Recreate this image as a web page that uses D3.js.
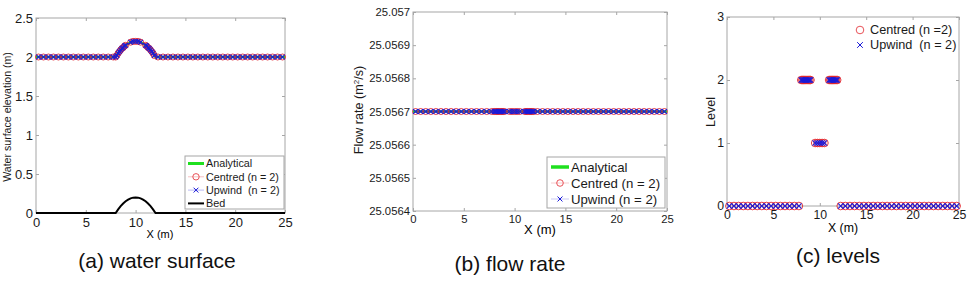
<!DOCTYPE html>
<html>
<head>
<meta charset="utf-8">
<script src="https://cdn.jsdelivr.net/npm/d3@7"></script>
<style>
body { margin: 0; background: #fff; }
text { font-family: "Liberation Sans", Arial, sans-serif; white-space: pre; }
</style>
</head>
<body>
<svg id="fig" width="970" height="282"></svg>
<script>
// cell centres of the adaptive mesh (m): coarse | level 2 | level 1 | level 2 | coarse
var meshX = [
    0.25, 0.75, 1.25, 1.75, 2.25, 2.75, 3.25, 3.75, 4.25, 4.75, 5.25, 5.75, 6.25, 6.75, 7.25, 7.75,
    8, 8.125, 8.25, 8.375, 8.5, 8.625, 8.75, 8.875, 9,
    9.5, 9.75, 10, 10.25, 10.5,
    11, 11.125, 11.25, 11.375, 11.5, 11.625, 11.75, 11.875,
    12.25, 12.75, 13.25, 13.75, 14.25, 14.75, 15.25, 15.75, 16.25, 16.75, 17.25, 17.75, 18.25,
    18.75, 19.25, 19.75, 20.25, 20.75, 21.25, 21.75, 22.25, 22.75, 23.25, 23.75, 24.25, 24.75
];
var meshLevel = [
    0, 0, 0, 0, 0, 0, 0, 0, 0, 0, 0, 0, 0, 0, 0, 0,
    2, 2, 2, 2, 2, 2, 2, 2, 2,
    1, 1, 1, 1, 1,
    2, 2, 2, 2, 2, 2, 2, 2,
    0, 0, 0, 0, 0, 0, 0, 0, 0, 0, 0, 0, 0,
    0, 0, 0, 0, 0, 0, 0, 0, 0, 0, 0, 0, 0
];
var centredEta = [
    2, 2, 2, 2, 2, 2, 2, 2, 2, 2, 2, 2, 2, 2, 2, 2,
    2.00, 2.02, 2.05, 2.07, 2.09, 2.11, 2.12, 2.14, 2.15,
    2.19, 2.20, 2.20, 2.20, 2.19,
    2.15, 2.14, 2.12, 2.11, 2.09, 2.07, 2.05, 2.02,
    2, 2, 2, 2, 2, 2, 2, 2, 2, 2, 2, 2, 2,
    2, 2, 2, 2, 2, 2, 2, 2, 2, 2, 2, 2, 2
];
var upwindEta = [
    2, 2, 2, 2, 2, 2, 2, 2, 2, 2, 2, 2, 2, 2, 2, 2,
    2.00, 2.02, 2.05, 2.07, 2.09, 2.11, 2.12, 2.14, 2.15,
    2.19, 2.20, 2.20, 2.20, 2.19,
    2.15, 2.14, 2.12, 2.11, 2.09, 2.07, 2.05, 2.02,
    2, 2, 2, 2, 2, 2, 2, 2, 2, 2, 2, 2, 2,
    2, 2, 2, 2, 2, 2, 2, 2, 2, 2, 2, 2, 2
];
var centredQ = [
    25.0567, 25.0567, 25.0567, 25.0567, 25.0567, 25.0567, 25.0567, 25.0567,
    25.0567, 25.0567, 25.0567, 25.0567, 25.0567, 25.0567, 25.0567, 25.0567,
    25.0567, 25.0567, 25.0567, 25.0567, 25.0567, 25.0567, 25.0567, 25.0567, 25.0567,
    25.0567, 25.0567, 25.0567, 25.0567, 25.0567,
    25.0567, 25.0567, 25.0567, 25.0567, 25.0567, 25.0567, 25.0567, 25.0567,
    25.0567, 25.0567, 25.0567, 25.0567, 25.0567, 25.0567, 25.0567, 25.0567, 25.0567,
    25.0567, 25.0567, 25.0567, 25.0567, 25.0567, 25.0567, 25.0567, 25.0567, 25.0567,
    25.0567, 25.0567, 25.0567, 25.0567, 25.0567, 25.0567, 25.0567, 25.0567
];
var upwindQ = centredQ.slice();

// analytical solution and bed profile
var bedX = [0, 8, 8.25, 8.5, 8.75, 9, 9.25, 9.5, 9.75, 10, 10.25, 10.5, 10.75, 11, 11.25, 11.5, 11.75, 12, 25];
var bedZ = [0, 0, 0.047, 0.088, 0.122, 0.15, 0.172, 0.188, 0.197, 0.2, 0.197, 0.188, 0.172, 0.15, 0.122, 0.088, 0.047, 0, 0];
var analyticEta = [2, 2, 2.05, 2.09, 2.12, 2.15, 2.17, 2.19, 2.20, 2.20, 2.20, 2.19, 2.17, 2.15, 2.12, 2.09, 2.05, 2, 2];
var analyticQX = [0, 25];
var analyticQ = [25.0567, 25.0567];

var xTicks = [0, 5, 10, 15, 20, 25];
var etaTicks = [0, 0.5, 1, 1.5, 2, 2.5];
var qTicks = [25.0564, 25.0565, 25.0566, 25.0567, 25.0568, 25.0569, 25.057];
var levelTicks = [0, 1, 2, 3];

var RED = "#e2272e", BLUE = "#1a1ad8", GREEN = "#1fe01f", GREY = "#a6a6a6";

var svg = d3.select("#fig");
svg.append("rect").attr("width", 970).attr("height", 282).attr("fill", "#fff");

function panel(cfg){
    var x = d3.scaleLinear().domain([0, 25]).range([cfg.left, cfg.right]);
    var y = d3.scaleLinear().domain(cfg.yDomain).range([cfg.bottom, cfg.top]);
    var g = svg.append("g");

    g.append("rect")
        .attr("x", cfg.left).attr("y", cfg.top)
        .attr("width", cfg.right - cfg.left).attr("height", cfg.bottom - cfg.top)
        .attr("fill", "#fff").attr("stroke", GREY).attr("stroke-width", 1);

    function styleAxis(sel, fs){
        sel.select(".domain").remove();
        sel.selectAll(".tick line").attr("stroke", GREY);
        sel.selectAll("text").attr("fill", "#1a1a1a").style("font-size", fs + "px")
            .attr("font-family", null);
    }

    g.append("g").attr("transform", "translate(0," + cfg.bottom + ")")
        .call(d3.axisBottom(x).tickValues(xTicks).tickSize(-3).tickPadding(cfg.xPad))
        .call(styleAxis, cfg.tickFont);
    g.append("g").attr("transform", "translate(0," + cfg.top + ")")
        .call(d3.axisTop(x).tickValues(xTicks).tickSize(-3).tickFormat(""))
        .call(styleAxis, cfg.tickFont);
    g.append("g").attr("transform", "translate(" + cfg.left + ",0)")
        .call(d3.axisLeft(y).tickValues(cfg.yTicks).tickSize(-3).tickPadding(3).tickFormat(function(d){ return String(d); }))
        .call(styleAxis, cfg.tickFont);
    g.append("g").attr("transform", "translate(" + cfg.right + ",0)")
        .call(d3.axisRight(y).tickValues(cfg.yTicks).tickSize(-3).tickFormat(""))
        .call(styleAxis, cfg.tickFont);

    g.append("text")
        .attr("x", (cfg.left + cfg.right) / 2 + cfg.xLabelDx).attr("y", cfg.xLabelY)
        .attr("text-anchor", "middle").style("font-size", cfg.xLabelFont + "px")
        .text("X (m)");

    return {g: g, x: x, y: y};
}

function drawLine(p, xs, ys, color, width, opacity){
    var line = d3.line().x(function(d){ return p.x(d[0]); }).y(function(d){ return p.y(d[1]); });
    p.g.append("path").datum(d3.zip(xs, ys))
        .attr("d", line).attr("fill", "none")
        .attr("stroke", color).attr("stroke-width", width).attr("stroke-opacity", opacity || 1);
}

function drawCircles(p, xs, ys, r){
    p.g.append("g").selectAll("circle").data(d3.zip(xs, ys)).join("circle")
        .attr("cx", function(d){ return p.x(d[0]); })
        .attr("cy", function(d){ return p.y(d[1]); })
        .attr("r", r).attr("fill", "none").attr("stroke", RED).attr("stroke-width", 0.9);
}

function crossPath(s){
    return "M" + (-s) + "," + (-s) + "L" + s + "," + s + "M" + (-s) + "," + s + "L" + s + "," + (-s);
}

function drawCrosses(p, xs, ys, s){
    p.g.append("g").selectAll("path").data(d3.zip(xs, ys)).join("path")
        .attr("transform", function(d){ return "translate(" + p.x(d[0]) + "," + p.y(d[1]) + ")"; })
        .attr("d", crossPath(s)).attr("fill", "none").attr("stroke", BLUE).attr("stroke-width", 1.15);
}

function legend(g, box, rows, fs){
    if(box.border){
        g.append("rect").attr("x", box.x).attr("y", box.y).attr("width", box.w).attr("height", box.h)
            .attr("fill", "#fff").attr("stroke", GREY).attr("stroke-width", 1);
    }
    rows.forEach(function(r, i){
        var cy = box.firstY + i * box.step;
        var mid = (box.x1 + box.x2) / 2;
        if(r.line){
            g.append("line").attr("x1", box.x1).attr("x2", box.x2).attr("y1", cy).attr("y2", cy)
                .attr("stroke", r.line).attr("stroke-width", r.lw).attr("stroke-opacity", r.lo || 1);
        }
        if(r.marker === "o"){
            g.append("circle").attr("cx", mid).attr("cy", cy).attr("r", box.r)
                .attr("fill", "none").attr("stroke", RED).attr("stroke-width", 0.8);
        }
        if(r.marker === "x"){
            g.append("path").attr("transform", "translate(" + mid + "," + cy + ")")
                .attr("d", crossPath(box.r * 0.75)).attr("stroke", BLUE).attr("stroke-width", 1);
        }
        g.append("text").attr("x", box.tx).attr("y", cy).attr("dy", "0.35em")
            .style("font-size", fs + "px").attr("fill", "#1a1a1a").text(r.label);
    });
}

function title(x, y, s){
    svg.append("text").attr("x", x).attr("y", y).attr("text-anchor", "middle")
        .style("font-size", "21px").attr("fill", "#111").text(s);
}

// (a) water surface
var pa = panel({left: 36, right: 285, top: 18, bottom: 213, yDomain: [0, 2.5], yTicks: etaTicks,
    tickFont: 13, xPad: 5, xLabelY: 238, xLabelFont: 11, xLabelDx: -0.5});
drawLine(pa, bedX, analyticEta, GREEN, 2.5);
drawLine(pa, meshX, centredEta, RED, 0.6, 0.6);
drawCircles(pa, meshX, centredEta, 3);
drawLine(pa, meshX, upwindEta, BLUE, 0.6, 0.6);
drawCrosses(pa, meshX, upwindEta, 2.3);
drawLine(pa, bedX, bedZ, "#000", 2);
svg.append("text").attr("transform", "translate(11,117) rotate(-90)").attr("text-anchor", "middle")
    .style("font-size", "10.6px").attr("fill", "#1a1a1a").text("Water surface elevation (m)");
legend(pa.g, {border: true, x: 185, y: 156, w: 99, h: 53, firstY: 163.5, step: 13.3, x1: 188, x2: 204, tx: 206, r: 3.2}, [
    {label: "Analytical", line: GREEN, lw: 3},
    {label: "Centred (n = 2)", line: RED, lw: 0.6, lo: 0.5, marker: "o"},
    {label: "Upwind  (n = 2)", line: BLUE, lw: 0.6, lo: 0.5, marker: "x"},
    {label: "Bed", line: "#000", lw: 2}
], 10.8);
title(157, 268, "(a) water surface");

// (b) flow rate
var pb = panel({left: 413, right: 667, top: 12, bottom: 211, yDomain: [25.0564, 25.057], yTicks: qTicks,
    tickFont: 11.3, xPad: 3.5, xLabelY: 234, xLabelFont: 13, xLabelDx: 0});
drawLine(pb, analyticQX, analyticQ, GREEN, 2.5);
drawLine(pb, meshX, centredQ, RED, 0.6, 0.6);
drawCircles(pb, meshX, centredQ, 3);
drawLine(pb, meshX, upwindQ, BLUE, 0.6, 0.6);
drawCrosses(pb, meshX, upwindQ, 2.4);
var fl = svg.append("text").attr("transform", "translate(363,110) rotate(-90)").attr("text-anchor", "middle")
    .style("font-size", "12.6px").attr("fill", "#1a1a1a");
fl.append("tspan").text("Flow rate (m");
fl.append("tspan").attr("baseline-shift", "super").style("font-size", "8px").text("2");
fl.append("tspan").text("/s)");
legend(pb.g, {border: true, x: 547, y: 157, w: 118, h: 51, firstY: 167, step: 16, x1: 551, x2: 569, tx: 571, r: 3.3}, [
    {label: "Analytical", line: GREEN, lw: 3.5},
    {label: "Centred (n = 2)", line: RED, lw: 0.6, lo: 0.4, marker: "o"},
    {label: "Upwind (n = 2)", line: BLUE, lw: 0.6, lo: 0.4, marker: "x"}
], 13.2);
title(510, 271, "(b) flow rate");

// (c) levels
var pc = panel({left: 727, right: 959, top: 17, bottom: 206, yDomain: [0, 3], yTicks: levelTicks,
    tickFont: 12.3, xPad: 4.5, xLabelY: 232, xLabelFont: 12.3, xLabelDx: 0});
drawCircles(pc, meshX, meshLevel, 3.8);
drawCrosses(pc, meshX, meshLevel, 2.6);
svg.append("text").attr("transform", "translate(715,112) rotate(-90)").attr("text-anchor", "middle")
    .style("font-size", "12.6px").attr("fill", "#1a1a1a").text("Level");
legend(pc.g, {border: false, firstY: 30, step: 15, x1: 855, x2: 865, tx: 870, r: 3.8}, [
    {label: "Centred (n =2)", marker: "o"},
    {label: "Upwind  (n = 2)", marker: "x"}
], 12.7);
title(838, 263, "(c) levels");
</script>
</body>
</html>
